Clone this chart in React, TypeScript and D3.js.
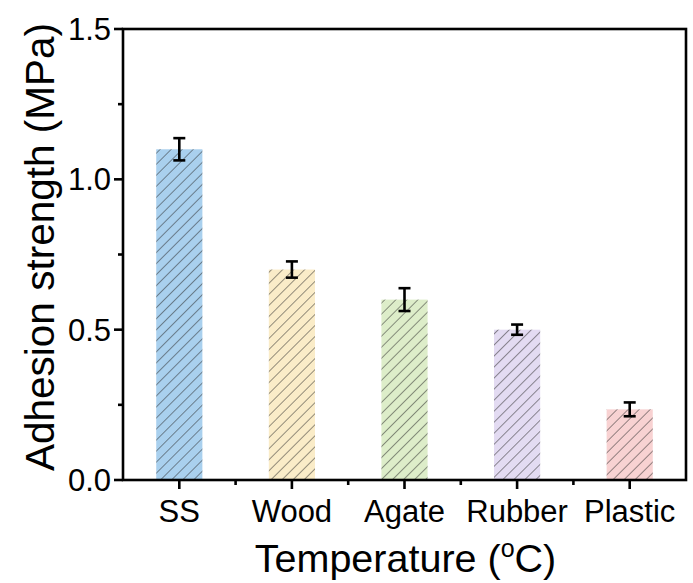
import React from "react";
import * as d3 from "d3";

const categories = ["SS", "Wood", "Agate", "Rubber", "Plastic"];
const values = [1.10, 0.70, 0.60, 0.50, 0.235];
const errors = [0.037, 0.027, 0.038, 0.017, 0.023];
const colors = ["#a9d0ee", "#faecc8", "#ddedc9", "#e3dbf2", "#f8d2d2"];
const yTicks = [0, 0.5, 1.0, 1.5];
const yMinorTicks = [0.25, 0.75, 1.25];

const W = 693;
const H = 583;
const left = 123;
const right = 686;
const top = 29;
const bottom = 480;
const FONT = "Arial, 'Liberation Sans', sans-serif";

export default function App() {
  const x = d3.scaleLinear().domain([0.5, categories.length + 0.5]).range([left, right]);
  const y = d3.scaleLinear().domain([0, 1.5]).range([bottom, top]);
  const bw = (x(1) - x(0)) * 0.41;
  const xMinor = d3.range(1.5, categories.length, 1);

  return (
    <svg width={W} height={H} style={{ position: "absolute", left: 0, top: 0, background: "#fff" }}>
      <defs>
        {colors.map((c, i) => (
          <pattern
            key={i}
            id={`hatch${i}`}
            patternUnits="userSpaceOnUse"
            width={7.8}
            height={7.8}
            patternTransform="rotate(45)"
          >
            <rect width={7.8} height={7.8} fill={c} />
            <line x1={0} y1={0} x2={0} y2={7.8} stroke="#2a2a2a" strokeWidth={1} />
          </pattern>
        ))}
      </defs>

      {/* bars */}
      {values.map((v, i) => (
        <rect
          key={categories[i]}
          x={x(i + 1) - bw / 2}
          y={y(v)}
          width={bw}
          height={y(0) - y(v)}
          fill={`url(#hatch${i})`}
        />
      ))}

      {/* error bars */}
      {values.map((v, i) => {
        const cx = x(i + 1);
        const yt = y(v + errors[i]);
        const yb = y(v - errors[i]);
        return (
          <g key={"e" + i} stroke="#000" strokeWidth={2.6}>
            <line x1={cx} x2={cx} y1={yt} y2={yb} />
            <line x1={cx - 6} x2={cx + 6} y1={yt} y2={yt} />
            <line x1={cx - 6} x2={cx + 6} y1={yb} y2={yb} />
          </g>
        );
      })}

      {/* frame */}
      <rect x={left} y={top} width={right - left} height={bottom - top} fill="none" stroke="#000" strokeWidth={2.6} />

      {/* y ticks */}
      {yTicks.map((t) => (
        <g key={"yt" + t}>
          <line x1={left - 9} x2={left} y1={y(t)} y2={y(t)} stroke="#000" strokeWidth={2.6} />
          <text x={left - 12} y={y(t)} dy="0.36em" textAnchor="end" fontFamily={FONT} fontSize={31}>
            {d3.format(".1f")(t)}
          </text>
        </g>
      ))}
      {yMinorTicks.map((t) => (
        <line key={"ym" + t} x1={left - 5} x2={left} y1={y(t)} y2={y(t)} stroke="#000" strokeWidth={2.6} />
      ))}

      {/* x ticks */}
      {categories.map((c, i) => (
        <g key={"xt" + c}>
          <line x1={x(i + 1)} x2={x(i + 1)} y1={bottom} y2={bottom + 9} stroke="#000" strokeWidth={2.6} />
          <text x={x(i + 1)} y={522} textAnchor="middle" fontFamily={FONT} fontSize={31}>
            {c}
          </text>
        </g>
      ))}
      {xMinor.map((t) => (
        <line key={"xm" + t} x1={x(t)} x2={x(t)} y1={bottom} y2={bottom + 5} stroke="#000" strokeWidth={2.6} />
      ))}

      {/* axis titles */}
      <text x={(left + right) / 2 + 1} y={572} textAnchor="middle" fontFamily={FONT} fontSize={39.5}>
        Temperature (
        <tspan dy={-15} fontSize={25}>o</tspan>
        <tspan dy={15}>C)</tspan>
      </text>
      <text
        transform={`translate(54, 247) rotate(-90)`}
        x={0}
        y={0}
        textAnchor="middle"
        fontFamily={FONT}
        fontSize={40.5}
      >
        Adhesion strength (MPa)
      </text>
    </svg>
  );
}
